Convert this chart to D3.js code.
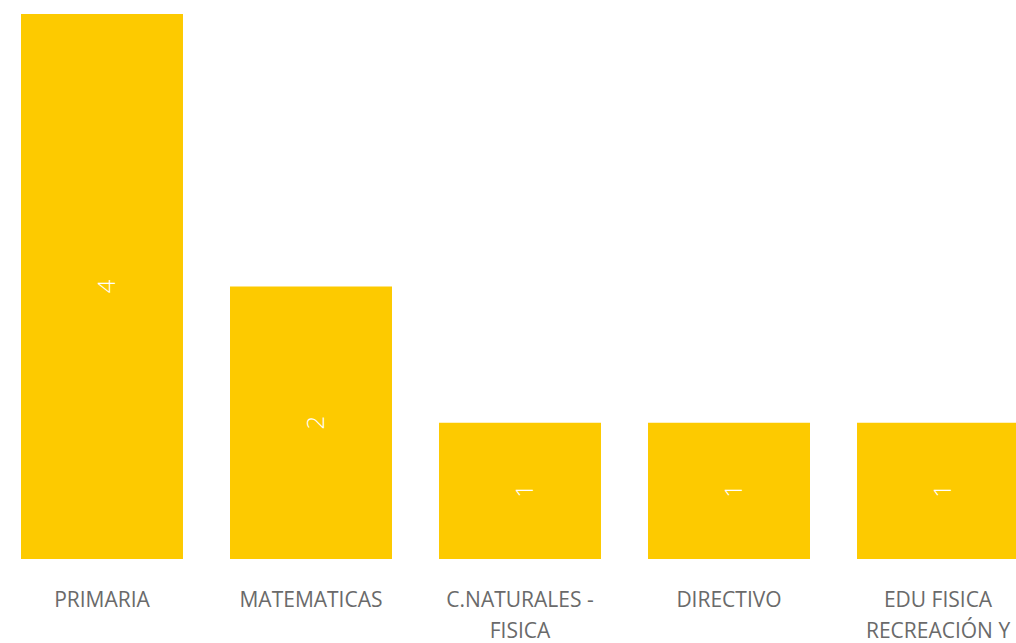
<!DOCTYPE html>
<html><head><meta charset="utf-8">
<script src="https://cdn.jsdelivr.net/npm/d3@7"></script>
<style>html,body{margin:0;padding:0;background:#fff;overflow:hidden}</style>
</head><body>
<svg id="c" width="1016" height="643"></svg>
<script>
const categories = ["PRIMARIA", "MATEMATICAS", "C.NATURALES - FISICA", "DIRECTIVO", "EDU FISICA RECREACIÓN Y DEPORTES"];
const values = [4, 2, 1, 1, 1];

const svg = d3.select("#c");
const font = "'Open Sans', 'Segoe UI', sans-serif";
const x = d3.scaleBand().domain(categories).range([21, 1019]).paddingInner(0.225).paddingOuter(0);
const y = d3.scaleLinear().domain([0, 4]).range([559, 14]);

svg.selectAll("rect.bar").data(categories).join("rect")
  .attr("class", "bar")
  .attr("x", d => x(d)).attr("width", x.bandwidth())
  .attr("y", (d, i) => y(values[i])).attr("height", (d, i) => y(0) - y(values[i]))
  .attr("fill", "#FDCA00");

svg.selectAll("text.val").data(categories).join("text")
  .attr("class", "val")
  .attr("transform", (d, i) => `translate(${x(d) + x.bandwidth() / 2},${(y(values[i]) + y(0)) / 2}) rotate(-90)`)
  .attr("text-anchor", "middle").attr("dy", "0.55em")
  .attr("font-family", font).attr("font-size", 24).attr("font-weight", 300)
  .attr("fill", "#fff")
  .text((d, i) => values[i]);

const xAxis = d3.axisBottom(x).tickSize(0).tickPadding(0);
const g = svg.append("g").attr("transform", "translate(0,586)").call(xAxis);
g.select(".domain").remove();
g.selectAll("text").attr("font-family", font).attr("font-size", 21).attr("fill", "#6a6a6a")
  .attr("dy", null).attr("y", 0);

function wrap(sel, width) {
  sel.each(function () {
    const t = d3.select(this);
    const words = t.text().split(/\s+/);
    t.text(null);
    let line = [];
    let ts = t.append("tspan").attr("x", 0).attr("dy", "0.98em");
    for (const w of words) {
      line.push(w);
      ts.text(line.join(" "));
      if (ts.node().getComputedTextLength() > width && line.length > 1) {
        line.pop();
        ts.text(line.join(" "));
        line = [w];
        ts = t.append("tspan").attr("x", 0).attr("dy", "1.5em").text(w);
      }
    }
  });
}
g.selectAll(".tick text").call(wrap, 190);
</script>
</body></html>
